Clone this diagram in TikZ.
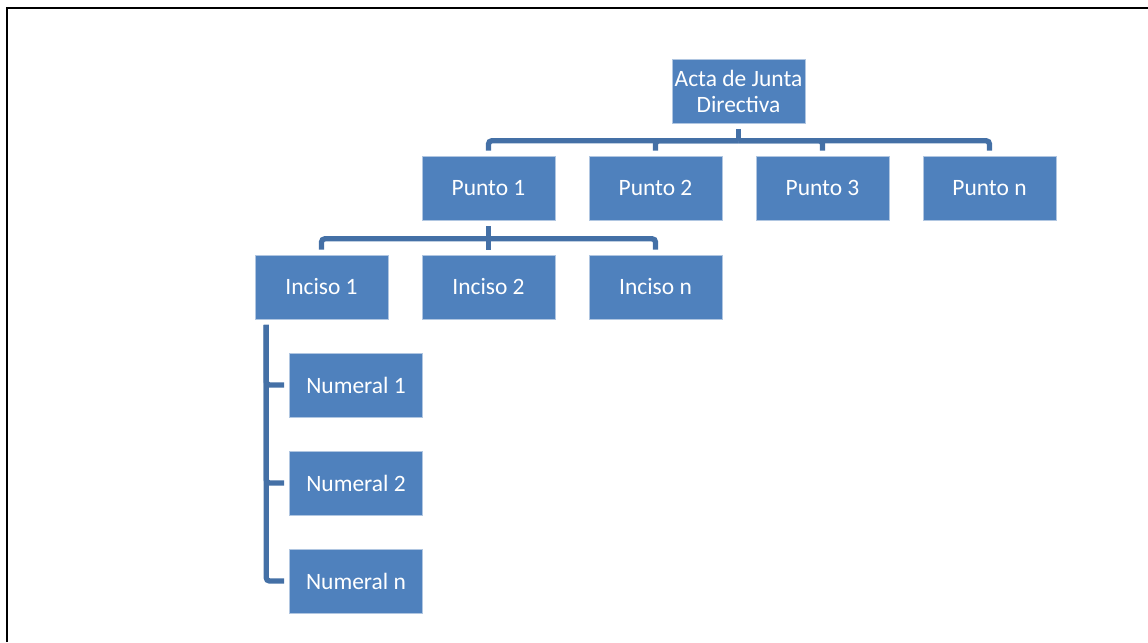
\documentclass[tikz,border=0pt]{standalone}
\usepackage{fontspec}
\setmainfont{Carlito}
\definecolor{boxblue}{HTML}{4F81BD}
\definecolor{linkblue}{HTML}{4470A6}
\tikzset{
  box/.style={rectangle, fill=boxblue, draw=boxblue!45!white, line width=0.4pt,
    minimum width=99.75pt, minimum height=48pt, inner sep=0pt,
    text=white, align=center, font=\fontsize{17.6}{19.5}\selectfont},
  link/.style={draw=linkblue, line width=4pt},
}
\begin{document}
\begin{tikzpicture}[x=0.75pt, y=-0.75pt]
    \useasboundingbox (0,0) rectangle (1148,642);
    % Frame
    \draw[line width=1.6pt] (6.9,642) |- (1148,7.7);

    % Root
    \node[box] (root) at (738.5,91.5) {Acta de Junta\\Directiva};

    % Puntos
    \node[box] (p1) at (488.5,188) {Punto 1};
    \node[box] (p2) at (655.5,188) {Punto 2};
    \node[box] (p3) at (822.5,188) {Punto 3};
    \node[box] (pn) at (989.5,188) {Punto n};

    % Incisos
    \node[box] (i1) at (321.5,287) {Inciso 1};
    \node[box] (i2) at (488.5,287) {Inciso 2};
    \node[box] (in) at (655.5,287) {Inciso n};

    % Numerales
    \node[box] (n1) at (356,385) {Numeral 1};
    \node[box] (n2) at (356,483) {Numeral 2};
    \node[box] (nn) at (356,581) {Numeral n};

    % Root -> Puntos
    \coordinate (rootbar) at ([yshift=-12.75pt]root.south);
    \draw[link] ([yshift=-3.75pt]root.south) -- (rootbar);
    \foreach \c in {p1,p2,p3,pn}
        \draw[link, rounded corners=2.5pt] (rootbar) -| ([yshift=3.75pt]\c.north);

    % Punto 1 -> Incisos
    \coordinate (p1bar) at ([yshift=-13.9pt]p1.south);
    \draw[link] ([yshift=-4.5pt]p1.south) -- (p1bar);
    \foreach \c in {i1,i2,in}
        \draw[link, rounded corners=2.5pt] (p1bar) -| ([yshift=3.75pt]\c.north);

    % Inciso 1 -> Numerales
    \coordinate (i1top) at ([xshift=8.6pt,yshift=-4.2pt]i1.south west);
    \foreach \c in {n1,n2,nn}
        \draw[link, rounded corners=2.5pt] (i1top) |- ([xshift=-3.75pt]\c.west);
\end{tikzpicture}
\end{document}
